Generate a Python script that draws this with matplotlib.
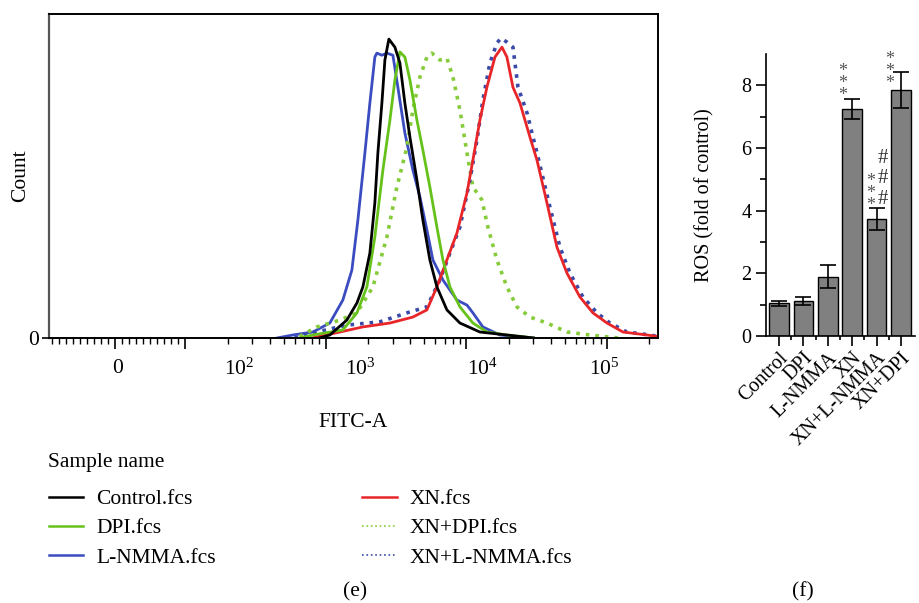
import numpy as np
import matplotlib
matplotlib.use('Agg')
import matplotlib.pyplot as plt
from matplotlib.lines import Line2D

plt.rcParams['font.family'] = ['Liberation Serif', 'DejaVu Serif']
plt.rcParams['mathtext.fontset'] = 'custom'
plt.rcParams['mathtext.rm'] = 'Liberation Serif'
plt.rcParams['mathtext.it'] = 'Liberation Serif:italic'

# ---- flow histogram data (FITC-A intensity, % of mode) ----
ctrl_x = [900, 1067, 1410, 1663, 1834, 2056, 2231, 2344, 2504, 2630, 2807, 3098, 3363, 3648,
          3963, 4445, 4898, 5495, 6166, 7261, 8990, 12470, 19410, 30000]
ctrl_y = [0, 1.0, 6.0, 11.7, 17.1, 28.4, 45.2, 61.9, 78.6, 93.0, 100, 97.3, 92.0, 78.6,
          67.2, 52.8, 39.5, 26.1, 17.1, 9.4, 5.0, 2.0, 1.0, 0]

dpi_x = [650, 808, 1321, 1663, 1958, 2231, 2545, 2855, 3098, 3363, 3648, 3963, 4445, 4898,
         5495, 6166, 6805, 7634, 8990, 11120, 13990, 19410, 30000]
dpi_y = [0, 1.0, 2.7, 8.4, 17.1, 33.8, 56.2, 72.9, 86.3, 95.7, 94.0, 86.3, 72.9, 62.9,
         50.5, 37.1, 26.1, 17.1, 10.4, 5.0, 2.0, 1.0, 0]

lnmma_x = [450, 582, 808, 1067, 1321, 1531, 1690, 1895, 2056, 2231, 2306, 2504, 2717, 2999,
           3253, 3648, 4159, 4667, 5236, 5775, 6805, 8557, 10090, 11120, 13090, 17300, 30000]
lnmma_y = [0, 1.0, 2.0, 5.0, 12.7, 22.7, 39.5, 61.9, 78.6, 94.0, 95.3, 94.6, 95.3, 94.6,
           83.9, 68.6, 56.2, 47.2, 36.1, 26.1, 19.4, 12.7, 11.0, 8.4, 3.7, 1.0, 0]

xn_x = [800, 1259, 1834, 2855, 4159, 5236, 6166, 7261, 8557, 10090, 11120, 12470, 13990,
        15960, 17900, 19410, 21430, 24040, 28310, 31770, 37410, 44060, 51900, 64240, 79450,
        100000, 130000, 192600, 230000]
xn_y = [0, 2.0, 3.7, 5.0, 7.0, 9.4, 17.1, 26.1, 35.1, 48.5, 59.5, 72.9, 83.9,
        94.0, 97.3, 94.0, 83.9, 78.6, 67.2, 59.5, 45.2, 30.4, 21.7, 13.7, 8.4,
        5.0, 2.0, 1.0, 0.5]

xndpi_x = [650, 863, 1259, 1663, 2161, 2717, 3200, 3773, 4159, 4667, 5236, 5679, 6477, 7261,
           8017, 8990, 10090, 11120, 12880, 14220, 16480, 19410, 22870, 28310, 37410, 51900,
           75690, 120000]
xndpi_y = [0.5, 3.7, 6.0, 8.4, 17.1, 33.8, 50.5, 63.9, 76.3, 87.3, 94.0, 95.3, 93.0, 93.6,
           87.3, 76.3, 61.9, 50.5, 46.2, 37.1, 26.1, 17.1, 10.4, 7.0, 5.0, 2.0,
           1.0, 0]

xnln_x = [600, 808, 1410, 2422, 3773, 5236, 6477, 7634, 8990, 10590, 11880, 13090, 14690,
          16480, 17620, 19410, 21430, 23280, 26980, 31770, 39280, 46280, 54540, 67450, 84850,
          104950, 138700, 202300, 230000]
xnln_y = [0, 1.7, 4.3, 5.4, 8.4, 10.4, 19.4, 28.4, 37.1, 52.8, 66.2, 79.6, 92.0,
          98.7, 100.3, 99.0, 97.3, 83.9, 75.3, 61.9, 43.8, 30.4, 21.7, 13.7, 8.4,
          5.0, 2.0, 1.0, 0.5]

# ---- bar chart data ----
groups = ['Control', 'DPI', 'L-NMMA', 'XN', 'XN+L-NMMA', 'XN+DPI']
ros = [1.04, 1.12, 1.89, 7.24, 3.74, 7.84]
ros_err = [0.08, 0.13, 0.36, 0.33, 0.35, 0.58]
stars = ['', '', '', '***', '***', '***']
hashes = ['', '', '', '', '###', '']


def fwd(x):
    x = np.asarray(x, dtype=float)
    return np.where(x >= 100, np.log10(np.maximum(x, 100)), 2 - (100 - x) / 200)


def inv(t):
    t = np.asarray(t, dtype=float)
    return np.where(t >= 2, 10 ** np.minimum(t, 8), 100 - (2 - t) * 200)


FS = 15.5
fig = plt.figure(figsize=(9.19, 6.03), dpi=100)

# ===== (e) histogram =====
ax = fig.add_axes([0.0533, 0.4395, 0.6627, 0.5373])
ax.set_xscale('function', functions=(fwd, inv))
curves = [
    (lnmma_x, lnmma_y, '#3b4cc0', '-', 'L-NMMA.fcs'),
    (xndpi_x, xndpi_y, '#86cc3a', ':', 'XN+DPI.fcs'),
    (xnln_x, xnln_y, '#3a4aa8', ':', 'XN+L-NMMA.fcs'),
    (xn_x, xn_y, '#e8262a', '-', 'XN.fcs'),
    (dpi_x, dpi_y, '#66c21a', '-', 'DPI.fcs'),
    (ctrl_x, ctrl_y, '#000000', '-', 'Control.fcs'),
]
handles = {}
for xs, ys, c, ls, lab in curves:
    ax.plot(xs, ys, color=c, ls=ls, lw=2.0 if ls == '-' else 2.6)
    handles[lab] = Line2D([], [], color=c, ls=ls, lw=1.8 if ls == '-' else 1.2)

ax.set_xlim(-94, 230700)
ax.set_ylim(0, 108.4)
ax.spines['left'].set_color('#555555')
ax.spines['left'].set_linewidth(1.6)
for s in ['top', 'right', 'bottom']:
    ax.spines[s].set_linewidth(1.4)

major = [0, 100, 1000, 10000, 100000]
minor = [v for v in range(-90, 100, 10) if v != 0]
for d in [100, 1000, 10000]:
    minor += [k * d for k in range(2, 10)]
minor += [200000]
ax.set_xticks(major)
ax.set_xticklabels([])
ax.set_xticks(minor, minor=True)
ax.tick_params(axis='x', which='major', length=8, width=1.2, direction='out')
ax.tick_params(axis='x', which='minor', length=4, width=1.0, direction='out')
ax.set_yticks([0])
ax.set_yticklabels(['0'], fontsize=FS)
ax.tick_params(axis='y', length=5, width=1.2, pad=2)

lbls = ['0', r'$\mathrm{10^{2}}$', r'$\mathrm{10^{3}}$', r'$\mathrm{10^{4}}$', r'$\mathrm{10^{5}}$']
for i, lb in enumerate(lbls):
    ax.text(0.112 + 0.2 * i, -0.095, lb, transform=ax.transAxes, ha='center', va='center',
            fontsize=FS)
ax.text(0.5, -0.26, 'FITC-A', transform=ax.transAxes, ha='center', va='center', fontsize=FS)
ax.text(-0.046, 0.5, 'Count', transform=ax.transAxes, ha='center', va='center', rotation=90,
        fontsize=FS)

order = ['Control.fcs', 'DPI.fcs', 'L-NMMA.fcs', 'XN.fcs', 'XN+DPI.fcs', 'XN+L-NMMA.fcs']
fig.text(48 / 919, 1 - 462 / 603, 'Sample name', ha='left', va='center', fontsize=FS)
leg = fig.legend([handles[k] for k in order], order, loc='upper left',
                 bbox_to_anchor=(0.053, 1 - 489 / 603), ncol=2, frameon=False, fontsize=FS,
                 handlelength=1.6, handletextpad=0.6, columnspacing=6.8, labelspacing=0.43,
                 borderaxespad=0, borderpad=0)

fig.text(355 / 919, 1 - 592 / 603, '(e)', ha='center', va='center', fontsize=FS)
fig.text(803 / 919, 1 - 592 / 603, '(f)', ha='center', va='center', fontsize=FS)

# ===== (f) bar chart =====
bx = fig.add_axes([0.8335, 0.4428, 0.1621, 0.4677])
pos = np.arange(len(groups))
bx.bar(pos, ros, width=0.8, color='#808080', edgecolor='black', linewidth=1.0)
bx.errorbar(pos, ros, yerr=ros_err, fmt='none', ecolor='black', elinewidth=1.2,
            capsize=5.5, capthick=1.2)
bx.set_xlim(-0.53, 5.57)
bx.set_ylim(0, 9)
bx.set_yticks([0, 2, 4, 6, 8])
bx.set_yticks([1, 3, 5, 7], minor=True)
bx.set_xticks(pos)
bx.set_xticks(pos[:-1] + 0.5, minor=True)
bx.set_xticklabels(groups, rotation=45, ha='right', rotation_mode='anchor', fontsize=14.5)
bx.tick_params(axis='y', which='major', length=7, width=1.2, labelsize=14.5)
bx.tick_params(axis='y', which='minor', length=4, width=1.2)
bx.tick_params(axis='x', which='major', length=7, width=1.2, pad=2)
bx.tick_params(axis='x', which='minor', length=3, width=1.2)
for s in ['top', 'right']:
    bx.spines[s].set_visible(False)
for s in ['left', 'bottom']:
    bx.spines[s].set_linewidth(1.2)
bx.set_ylabel('ROS (fold of control)', fontsize=14.5, labelpad=19)

# significance marks: (x offset, y offset above error bar) per group
star_off = {3: (-0.41, 0.5), 4: (-0.25, 0.45), 5: (-0.45, 0.03)}
hash_off = {4: (0.25, 0.92)}
for i in range(len(groups)):
    top = ros[i] + ros_err[i]
    if stars[i]:
        dx, dy = star_off[i]
        bx.text(i + dx, top + dy, '\n'.join(stars[i]), ha='center', va='center',
                fontsize=13, color='#555555', linespacing=0.62)
    if hashes[i]:
        dx, dy = hash_off[i]
        bx.text(i + dx, top + dy, '\n'.join(hashes[i]), ha='center', va='center',
                fontsize=15, color='#333333', linespacing=1.1)

fig.savefig('out.png', dpi=100)
